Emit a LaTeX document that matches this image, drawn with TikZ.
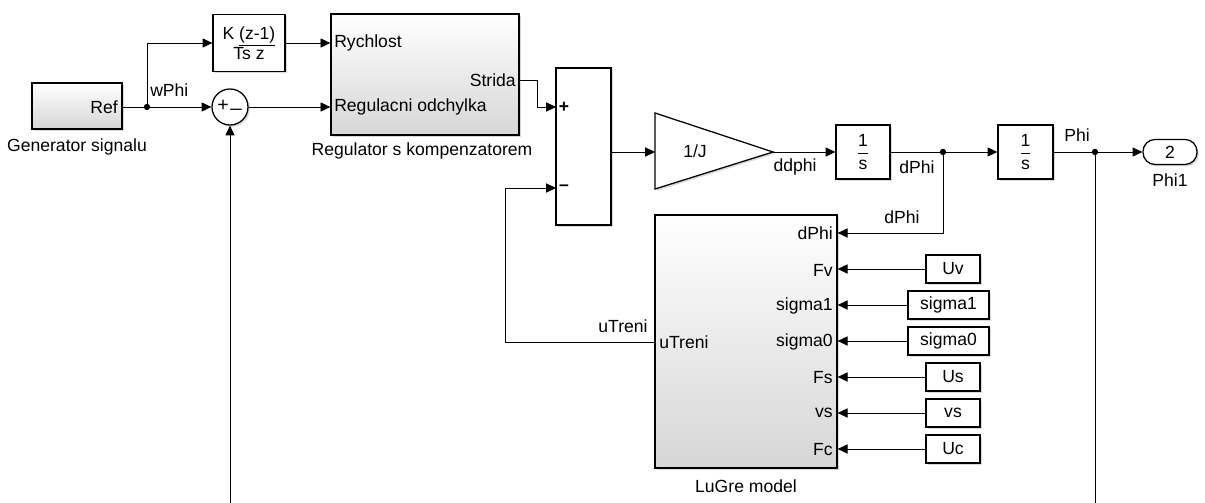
\documentclass[tikz,border=0pt]{standalone}
\usepackage{amsmath}
\usepackage{fontspec}
\setmainfont{Liberation Sans}
\usepackage{tikz}
\usetikzlibrary{positioning,arrows.meta,shadows}

\begin{document}
\begin{tikzpicture}[x=0.025cm, y=-0.025cm, >={Triangle[length=7pt,width=6.5pt]},
	font=\fontsize{12.5}{14}\selectfont,
	blk/.style={draw, line width=0.9pt, fill=white, drop shadow={opacity=0.3, shadow xshift=1.3pt, shadow yshift=-1.3pt}},
	sub/.style={blk, top color=white, bottom color=black!16},
	sig/.style={line width=0.7pt},
	lbl/.style={inner sep=0pt},
	dot/.style={circle, fill, inner sep=0pt, minimum size=4.5pt}]
	\useasboundingbox (0,0) rectangle (1205,503);

	\node[sub, minimum width=2.25cm, minimum height=1.15cm] (gen) at (77,106) {};
	\node[lbl, anchor=east] (genref) at (118,107) {Ref};
	\node[lbl] (genname) at (77,147) {Generator signalu};

	\node[blk, minimum width=1.8cm, minimum height=1.425cm, align=center] (kblk) at (249,43) {K \underline{(z-1)}\\Ts z};
	\node[blk, circle, minimum size=0.9cm] (sumc) at (230,107) {};
	\node[lbl, font=\fontsize{14}{14}\selectfont] (sumcp) at (223,106) {+};
	\node[lbl, font=\fontsize{14}{14}\selectfont] (sumcm) at (236,108) {\_};

	\node[sub, minimum width=4.7cm, minimum height=3.025cm] (reg) at (425,74.5) {};
	\node[lbl, anchor=west] (regin1) at (334,43) {Rychlost};
	\node[lbl, anchor=west] (regin2) at (334,107) {Regulacni odchylka};
	\node[lbl, anchor=east] (regout) at (516,80) {Strida};
	\node[lbl] (regname) at (422,151) {Regulator s kompenzatorem};

	\node[blk, minimum width=1.375cm, minimum height=3.925cm] (sumb) at (583.5,146.5) {};
	\node[lbl] (sumbp) at (564,107) {\textbf{+}};
	\node[lbl] (sumbm) at (564,188) {\textbf{--}};

	\draw[blk] (655,113) -- (773,152) -- (655,189) -- cycle;
	\coordinate (gin) at (655,152);
	\coordinate (gout) at (773,152);
	\node[lbl] (gain) at (695,151) {1/J};

	\node[blk, minimum width=1.35cm, minimum height=1.35cm] (int1) at (863,152) {$\dfrac{\text{1}}{\text{s}}$};
	\node[blk, minimum width=1.375cm, minimum height=1.35cm] (int2) at (1025.5,152) {$\dfrac{\text{1}}{\text{s}}$};
	\node[blk, rounded corners=0.3cm, minimum width=1.35cm, minimum height=0.625cm] (outp) at (1170,152) {2};
	\node[lbl] (outname) at (1170,180) {Phi1};

	\node[sub, minimum width=4.55cm, minimum height=6.325cm] (lug) at (746,341.5) {};
	\node[lbl] (lugname) at (746,486) {LuGre model};
	\node[lbl, anchor=east] (pdphi) at (833,233) {dPhi};
	\node[lbl, anchor=east] (pfv) at (833,270) {Fv};
	\node[lbl, anchor=east] (psig1) at (833,306) {sigma1};
	\node[lbl, anchor=east] (psig0) at (833,342) {sigma0};
	\node[lbl, anchor=east] (pfs) at (833,378) {Fs};
	\node[lbl, anchor=east] (pvs) at (833,413) {vs};
	\node[lbl, anchor=east] (pfc) at (833,450) {Fc};
	\node[lbl, anchor=west] (putr) at (659,342) {uTreni};

	\node[blk, minimum width=1.35cm, minimum height=0.7cm] (cuv) at (953,269) {Uv};
	\node[blk, minimum width=2.025cm, minimum height=0.7cm] (csig1) at (948.5,305) {sigma1};
	\node[blk, minimum width=2.025cm, minimum height=0.7cm] (csig0) at (948.5,341) {sigma0};
	\node[blk, minimum width=1.35cm, minimum height=0.7cm] (cus) at (953,377) {Us};
	\node[blk, minimum width=1.35cm, minimum height=0.7cm] (cvs) at (953,413) {vs};
	\node[blk, minimum width=1.35cm, minimum height=0.7cm] (cuc) at (953,449) {Uc};

	\node[dot] (wj) at (147,107) {};
	\node[dot] (dj) at (943,152) {};
	\node[dot] (pj) at (1095,152) {};
	\coordinate (strida) at (519,80);
	\coordinate (plusin) at (556,107);
	\coordinate (minusin) at (556,188);
	\coordinate (utr) at (655,342);
	\coordinate (bot1) at (230,503);
	\coordinate (bot2) at (1095,503);

	\node[lbl, anchor=west] (lwphi) at (150,90) {wPhi};
	\node[lbl] (lddphi) at (795,167) {ddphi};
	\node[lbl] (ldphi1) at (917,167) {dPhi};
	\node[lbl] (ldphi2) at (902,217) {dPhi};
	\node[lbl] (lphi) at (1077,135) {Phi};
	\node[lbl] (lutr) at (623,326) {uTreni};

	\draw[sig] (gen.east |- wj) -- (wj);
	\draw[sig,->] (wj) -- (sumc.west);
	\draw[sig,->] (wj) |- (kblk.west);
	\draw[sig,->] (kblk.east) -- (kblk.east -| reg.west);
	\draw[sig,->] (sumc.east) -- (sumc.east -| reg.west);
	\draw[sig,->] (bot1) -- (sumc.south);
	\draw[sig,->] (strida) -- ++(18,0) |- (plusin);
	\draw[sig,->] (sumb.east |- gin) -- (gin);
	\draw[sig,->] (gout) -- (int1.west);
	\draw[sig] (int1.east) -- (dj);
	\draw[sig,->] (dj) -- (int2.west);
	\draw[sig,->] (dj) |- (lug.east |- pdphi);
	\draw[sig] (int2.east) -- (pj);
	\draw[sig,->] (pj) -- (outp.west);
	\draw[sig] (pj) -- (bot2);
	\draw[sig,->] (utr) -- ++(-150,0) |- (minusin);
	\draw[sig,->] (cuv.west) -- (cuv.west -| lug.east);
	\draw[sig,->] (csig1.west) -- (csig1.west -| lug.east);
	\draw[sig,->] (csig0.west) -- (csig0.west -| lug.east);
	\draw[sig,->] (cus.west) -- (cus.west -| lug.east);
	\draw[sig,->] (cvs.west) -- (cvs.west -| lug.east);
	\draw[sig,->] (cuc.west) -- (cuc.west -| lug.east);
\end{tikzpicture}
\end{document}
